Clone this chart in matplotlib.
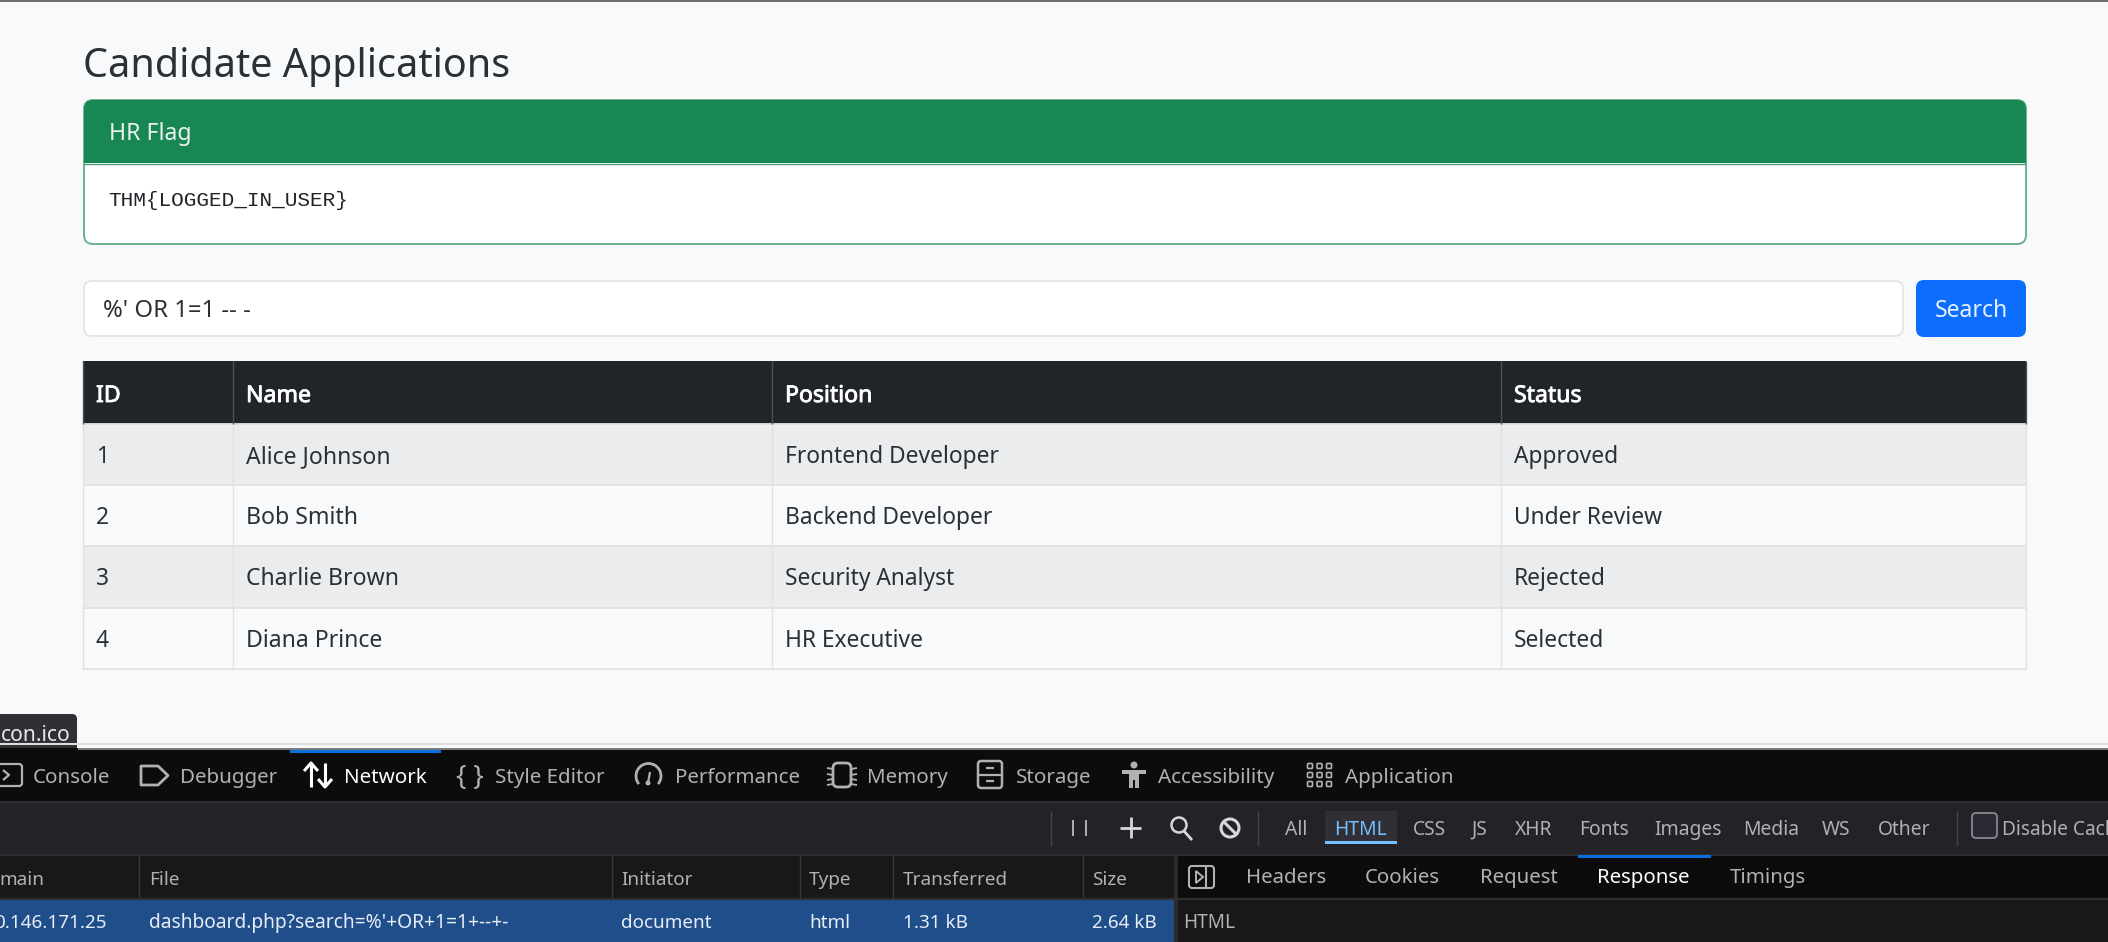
#recreate screenshot: candidate applications page + devtools network panel
import matplotlib
matplotlib.use("Agg")
import matplotlib.pyplot as plt
import matplotlib.patheffects as pe
from matplotlib.patches import Rectangle, FancyBboxPatch, Circle, Arc, Polygon

FONT = "Noto Sans"
MONO = "Liberation Mono"

#page text
title = "Candidate Applications"
card_head = "HR Flag"
card_body = "THM{LOGGED_IN_USER}"
search_text = "%' OR 1=1 -- -"
button_text = "Search"

#table
columns = ["ID", "Name", "Position", "Status"]
ids = ["1", "2", "3", "4"]
names = ["Alice Johnson", "Bob Smith", "Charlie Brown", "Diana Prince"]
positions = ["Frontend Developer", "Backend Developer", "Security Analyst", "HR Executive"]
statuses = ["Approved", "Under Review", "Rejected", "Selected"]

#devtools text
tabs = ["Console", "Debugger", "Network", "Style Editor", "Performance", "Memory", "Storage", "Accessibility", "Application"]
filters = ["All", "HTML", "CSS", "JS", "XHR", "Fonts", "Images", "Media", "WS", "Other"]
net_cols = ["main", "File", "Initiator", "Type", "Transferred", "Size"]
net_row = ["0.146.171.25", "dashboard.php?search=%'+OR+1=1+--+-", "document", "html", "1.31 kB", "2.64 kB"]
side_tabs = ["Headers", "Cookies", "Request", "Response", "Timings"]

#layout, in pixels of the 2108x942 picture
tab_x = [33, 180, 344, 495, 675, 867, 1016, 1158, 1345]
filter_x = [1285, 1334, 1413, 1472, 1515, 1579, 1654, 1743, 1822, 1878]
net_x = [-1, 149, 621, 809, 903, 1092]
net_row_x = [-6, 149, 621, 809, 903, 1092]
net_sep = [139, 612, 800, 893, 1083]
side_x = [1246, 1365, 1480, 1597, 1730]
col_x = [83, 233, 772, 1501, 2026]
row_y = [424, 485, 546, 608, 669]

fig = plt.figure(figsize=(21.08, 9.42), dpi=100, facecolor="#f8f9fa")
ax = fig.add_axes([0, 0, 1, 1])
ax.set_xlim(0, 2108)
ax.set_ylim(942, 0)
ax.axis("off")


def box(x0, y0, x1, y1, color, z=1):
    ax.add_patch(Rectangle((x0, y0), x1 - x0, y1 - y0, fc=color, ec="none", zorder=z))


def rbox(x0, y0, x1, y1, fc, ec="none", r=6, lw=1.0, z=2):
    ax.add_patch(FancyBboxPatch((x0 + r, y0 + r), x1 - x0 - 2 * r, y1 - y0 - 2 * r,
                                boxstyle=f"round,pad={r},rounding_size={r}", fc=fc, ec=ec, lw=lw, zorder=z))


def line(xs, ys, color, lw=1.0, z=3):
    ax.plot(xs, ys, color=color, lw=lw, zorder=z, solid_capstyle="butt")


def txt(x, y, s, size=16.4, color="#2b3035", family=FONT, **kw):
    return ax.text(x, y, s, fontsize=size, color=color, family=family, va="baseline", zorder=6, **kw)


#top edge
box(0, 0, 2108, 2, "#6c6e70")

#heading
txt(83, 77, title, size=28.5, color="#2b3035")

#green card
rbox(84, 100, 2026, 244, "white", ec="#6fb08f", r=9, lw=1.4)
rbox(84, 100, 2026, 140, "#198754", r=9)
box(84, 118, 2026, 163, "#198754", z=3)
line([84, 2026], [163.5, 163.5], "#4f9a76", 1.0)
txt(109, 140, card_head, size=16.6, color="#e8f3ed")
txt(108, 206, card_body, size=15.2, family=MONO, color="#212529")

#search form
rbox(84, 281, 1903, 336, "white", ec="#e2e4e7", r=8, lw=1.3)
txt(103, 317, search_text, size=17.2)
rbox(1916, 280, 2026, 337, "#0d6efd", r=8)
txt(1971, 317, button_text, size=16.6, color="#e7f0ff", ha="center")

#table
box(83, 361, 2026, 424, "#212529")
for i in range(4):
    if i % 2 == 0:
        box(83, row_y[i], 2026, row_y[i + 1], "#ebeced")
for y in row_y:
    line([83, 2026], [y, y], "#e0e2e4", 1.3)
for x in col_x:
    line([x, x], [424, 669], "#e0e2e4", 1.0)
    line([x, x], [361, 424], "#4d5154", 1.0)
for i, c in enumerate(columns):
    head = txt(col_x[i] + 13, 402, c, size=16.6, color="white")
    head.set_path_effects([pe.withStroke(linewidth=0.6, foreground="white")])
for i in range(4):
    y = row_y[i] + 39
    txt(col_x[0] + 13, y, ids[i])
    txt(col_x[1] + 13, y, names[i], size=16.6)
    txt(col_x[2] + 13, y, positions[i])
    txt(col_x[3] + 13, y, statuses[i])

#devtools background
line([0, 2108], [743.5, 743.5], "#dcdee0", 1.5)
box(0, 748, 2108, 801, "#0c0c0d")
box(0, 748, 2108, 749.5, "#7a7a7c", z=2)
box(0, 801, 2108, 854, "#232327")
box(0, 854, 2108, 942, "#18181a")
line([0, 2108], [801.5, 801.5], "#2f2f33", 1.5)
line([0, 2108], [854.5, 854.5], "#2f2f33", 1.5)
box(1178, 855, 2108, 899, "#0c0c0d", z=1.5)
line([0, 2108], [899, 899], "#2f2f33", 1.5)
box(1174, 855, 1178, 942, "#2a2a2e", z=2)

#tooltip
rbox(-10, 714, 77, 760, "#2f3034", r=5, z=2.5)
box(-10, 748, 78, 760, "#0c0c0d", z=2.6)
txt(1, 741, "con.ico", size=15.2, color="#e8e8ea", clip_on=True)

#main tabs
box(290, 750, 441, 753, "#0a6fe0")
for i, t in enumerate(tabs):
    txt(tab_x[i], 783, t, size=14.8, color="white" if t == "Network" else "#b1b1b3")

ICON = "#b1b1b3"
#console icon
rbox(-6, 764, 22, 786, "none", ec=ICON, r=3, lw=1.6, z=4)
line([3, 9, 3], [770, 775, 780], ICON, 1.6)
#debugger icon
ax.add_patch(Polygon([(141, 766), (158, 766), (168, 775.5), (158, 785), (141, 785)], fc="none", ec=ICON, lw=2, joinstyle="round", zorder=4))
#network arrows
line([311, 311], [787, 765], "white", 2.2)
line([304, 311, 318], [771, 763, 771], "white", 2.2)
line([325, 325], [763, 785], "white", 2.2)
line([318, 325, 332], [779, 787, 779], "white", 2.2)
#style editor braces
txt(456, 785, "{ }", size=19.5, color=ICON, fontweight="bold")
#performance gauge
ax.add_patch(Arc((648.5, 776), 25, 25, theta1=140, theta2=40, ec=ICON, lw=2, zorder=4))
line([648, 650], [783, 772], ICON, 1.6)
ax.add_patch(Circle((648, 783), 2.5, fc=ICON, ec="none", zorder=4))
#memory chip
rbox(833, 763, 851, 787, "none", ec=ICON, r=5, lw=2, z=4)
for y in [768, 774, 780, 785]:
    line([827, 833], [y, y + 1 if y < 775 else y - 1], ICON, 1.3)
    line([851, 857], [y + 1 if y < 775 else y - 1, y], ICON, 1.3)
#storage cabinet
rbox(978, 761, 1002, 788, "none", ec=ICON, r=3, lw=1.8, z=4)
line([978, 1002], [775, 775], ICON, 1.6)
line([986, 994], [768, 768], ICON, 1.6)
line([986, 994], [781, 781], ICON, 1.6)
#accessibility figure
ax.add_patch(Circle((1134, 765), 3.5, fc=ICON, ec="none", zorder=4))
ax.add_patch(Polygon([(1122, 770), (1146, 770), (1146, 774), (1139, 774), (1139, 788), (1135, 788), (1135, 780), (1133, 780), (1133, 788), (1129, 788), (1129, 774), (1122, 774)], fc=ICON, ec="none", zorder=4))
#application grid
for gx in [1310, 1319.5, 1329]:
    for gy in [766, 775, 784]:
        rbox(gx - 2.5, gy - 2.5, gx + 2.5, gy + 2.5, "none", ec=ICON, r=1, lw=1.2, z=4)

#filter bar
line([1051, 1051], [811, 846], "#46464a", 1.0)
line([1258, 1258], [811, 846], "#46464a", 1.0)
line([1073, 1073], [820, 836], ICON, 1.4)
line([1086, 1086], [820, 836], ICON, 1.4)
line([1120, 1141], [828, 828], "#d7d7db", 2.0)
line([1130.5, 1130.5], [817, 838], "#d7d7db", 2.0)
ax.add_patch(Circle((1179, 825), 7.5, fc="none", ec="#d7d7db", lw=1.8, zorder=4))
line([1184, 1192], [831, 840], "#d7d7db", 2.0)
ax.add_patch(Circle((1230, 828), 9, fc="none", ec="#d7d7db", lw=2.2, zorder=4))
line([1224, 1236], [822, 834], "#d7d7db", 2.2)
box(1325, 811, 1397, 844, "#2f2f35", z=2)
box(1325, 841, 1397, 844, "#75bfff", z=3)
for i, t in enumerate(filters):
    txt(filter_x[i], 835, t, size=13.9, color="#75bfff" if t == "HTML" else "#b1b1b3")
line([1957, 1957], [811, 846], "#46464a", 1.0)
rbox(1972, 813, 1997, 838, "#2b2a33", ec="#8f8f9d", r=4, lw=1.2, z=4)
txt(2002, 835, "Disable Cache", size=13.7, color="#b1b1b3", clip_on=True)

#request list
for x in net_sep:
    line([x, x], [855, 899], "#38383d", 1.0)
for i, c in enumerate(net_cols):
    txt(net_x[i], 885, c, size=13.6, color="#b1b1b3", clip_on=True)
box(0, 899, 1174, 942, "#204e8a", z=2)
for i, c in enumerate(net_row):
    txt(net_row_x[i], 928, c, size=13.85 if i == 1 else 13.6, color="#e6edf6", clip_on=True)

#side panel
rbox(1189, 866, 1214, 888, "none", ec=ICON, r=3, lw=1.5, z=4)
line([1206, 1206], [866, 888], ICON, 1.5)
ax.add_patch(Polygon([(1196, 871), (1203, 877), (1196, 883)], fc="none", ec=ICON, lw=1.4, zorder=4))
box(1578, 855, 1711, 858, "#0a6fe0", z=3)
for i, t in enumerate(side_tabs):
    txt(side_x[i], 883, t, size=14.7, color="white" if t == "Response" else "#b1b1b3")
txt(1183, 928, "HTML", size=13.7, color="#b1b1b3")

fig.savefig("out.png", dpi=100, facecolor=fig.get_facecolor())
